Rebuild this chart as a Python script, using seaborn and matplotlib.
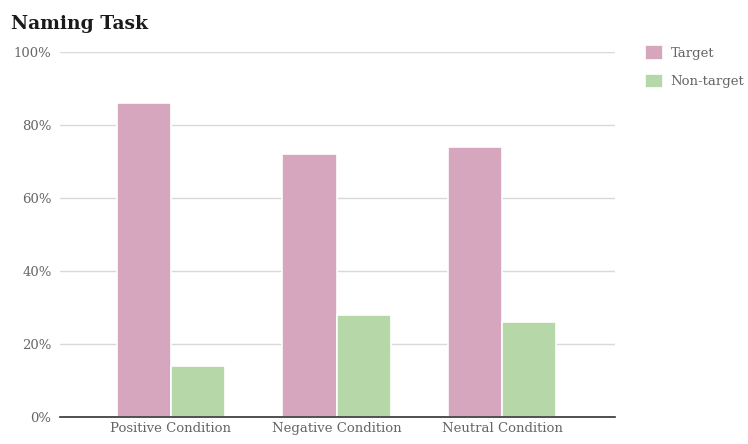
import matplotlib
matplotlib.use("Agg")
import matplotlib.pyplot as plt
import seaborn as sns
import pandas as pd
from matplotlib.ticker import PercentFormatter

conditions = ["Positive Condition", "Negative Condition", "Neutral Condition"]
target = [86, 72, 74]
non_target = [14, 28, 26]
series_names = ["Target", "Non-target"]
y_ticks = [0, 20, 40, 60, 80, 100]

df = pd.DataFrame({
    "condition": conditions * 2,
    "value": target + non_target,
    "series": [series_names[0]] * 3 + [series_names[1]] * 3,
})

sns.set_theme(style="white")
plt.rcParams["font.family"] = ["DejaVu Serif"]

fig = plt.figure(figsize=(7.48, 4.44), dpi=100)
ax = fig.add_axes([0.080, 0.061, 0.742, 0.822])

palette = {"Target": "#d5a6bd", "Non-target": "#b6d7a8"}
sns.barplot(data=df, x="condition", y="value", hue="series", palette=palette,
            width=0.655, edgecolor="white", linewidth=1.2, saturation=1,
            ax=ax, legend=True)

ax.set_ylim(0, 100)
ax.set_xlim(-0.67, 2.68)
ax.set_yticks(y_ticks)
ax.yaxis.set_major_formatter(PercentFormatter(decimals=0))
ax.grid(axis="y", color="#d9d9d9", linewidth=1)
ax.set_axisbelow(True)
for s in ["top", "right", "left"]:
    ax.spines[s].set_visible(False)
ax.spines["bottom"].set_color("#333333")
ax.spines["bottom"].set_linewidth(1.2)
ax.tick_params(axis="both", length=0, labelsize=9.5, labelcolor="#666666")
ax.tick_params(axis="y", pad=6)
ax.tick_params(axis="x", pad=4)
ax.set_xlabel("")
ax.set_ylabel("")

handles, labels = ax.get_legend_handles_labels()
ax.get_legend().remove()
fig.legend(handles, labels, loc="upper left", bbox_to_anchor=(0.847, 0.925),
           frameon=False, fontsize=9.5, handlelength=1.3, handleheight=1.3,
           labelspacing=1.05, handletextpad=0.6, labelcolor="#666666")

fig.text(0.015, 0.945, "Naming Task", fontsize=13.5, fontweight="bold",
         color="#1a1a1a", va="center")

fig.savefig("out.png", dpi=100)
